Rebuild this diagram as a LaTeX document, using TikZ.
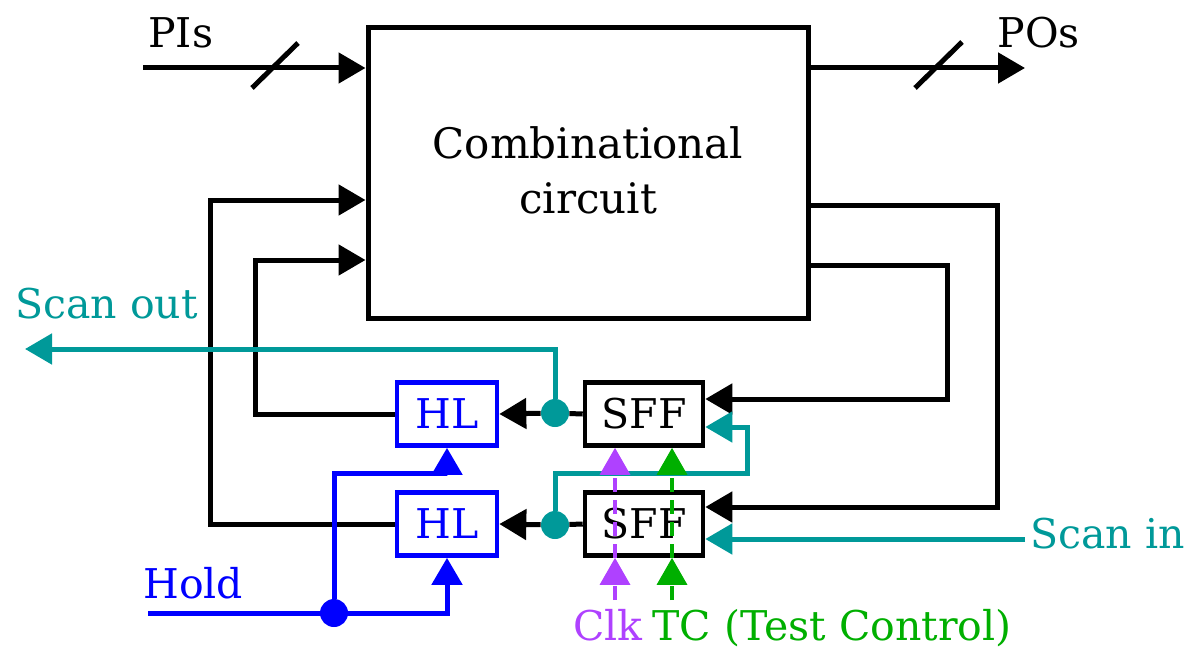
\documentclass[tikz,border=0pt]{standalone}
\usepackage{fontspec}
\setmainfont{DejaVu Serif}
\usetikzlibrary{arrows.meta}
\definecolor{tealc}{RGB}{0,153,153}
\definecolor{purplec}{RGB}{175,65,255}
\definecolor{greenc}{RGB}{0,175,0}
\definecolor{bluec}{RGB}{0,0,255}
\tikzset{
  txt/.style={font=\fontsize{20.5}{27.5}\selectfont, inner sep=0pt, anchor=base west},
  arr/.style={-{Triangle[length=13.5pt,width=15pt]}},
  wire/.style={line width=2.5pt},
  ffbox/.style={draw, line width=2.3pt, minimum width=59pt, minimum height=31.5pt, inner sep=0pt, font=\fontsize{20.5}{27.5}\selectfont},
  hlbox/.style={ffbox, draw=bluec, text=bluec, minimum width=50pt},
  dot/.style={circle, fill=#1, minimum size=14pt, inner sep=0pt},
}
\begin{document}
\begin{tikzpicture}[x=0.5pt,y=-0.5pt]
\useasboundingbox (0,0) rectangle (1186,647);
% main box
\node[draw, line width=2.5pt, minimum width=220pt, minimum height=145pt, inner sep=0pt, font=\fontsize{21}{27.5}\selectfont] (cc) at (588,173) {};
\node[align=center, inner sep=0pt, font=\fontsize{21}{27.5}\selectfont] (cctext) at (588,170) {Combinational\\circuit};
% flip-flops and hold latches
\node[ffbox] (sff1) at (644,414) {SFF};
\node[ffbox] (sff2) at (644,524) {SFF};
\node[hlbox] (hl1) at (447,414) {HL};
\node[hlbox] (hl2) at (447,524) {HL};
\node[dot=tealc] (d1) at (555,413) {};
\node[dot=tealc] (d2) at (555,525) {};
\node[dot=bluec] (hd) at (334,613) {};
% labels
\node[txt] (pis) at (148,48) {PIs};
\node[txt] (pos) at (997,48) {POs};
\node[txt, text=tealc] (sol) at (15,318) {Scan out};
\node[txt, text=tealc] (sil) at (1030,548) {Scan in};
\node[txt, text=bluec] (holdl) at (143,598) {Hold};
\node[txt, text=purplec] (clkl) at (573,640) {Clk};
\node[txt, text=greenc] (tcl) at (652,640) {TC (Test Control)};
% coordinates
\coordinate (pi) at (143,68);
\coordinate (po) at (1025,68);
\coordinate (f1a) at (cc.east |- 0,205);
\coordinate (f1b) at (997,205);
\coordinate (f1c) at (997,507);
\coordinate (f1d) at (sff2.east |- 0,507);
\coordinate (f2a) at (cc.east |- 0,265);
\coordinate (f2b) at (947,265);
\coordinate (f2c) at (947,399);
\coordinate (f2d) at (sff1.east |- 0,399);
\coordinate (soa) at (555,349);
\coordinate (so) at (25,349);
\coordinate (sca) at (555,473);
\coordinate (scb) at (747,473);
\coordinate (scc) at (747,427);
\coordinate (scd) at (sff1.east |- 0,427);
\coordinate (si) at (1025,539);
\coordinate (sie) at (sff2.east |- 0,539);
\coordinate (clk) at (615,600);
\coordinate (tc) at (672,600);
\coordinate (ha) at (447,613);
\coordinate (hb) at (334,473);
\coordinate (hc) at (447,473);
\coordinate (hold) at (148,613);
\coordinate (l1a) at (255,414);
\coordinate (l1b) at (255,260);
\coordinate (l1c) at (cc.west |- 0,260);
\coordinate (l2a) at (210,524);
\coordinate (l2b) at (210,200);
\coordinate (l2c) at (cc.west |- 0,200);
% PI / PO
\draw[wire, arr] (pi) -- (cc.west |- pi);
\draw[wire] (252,88) -- (298,43);
\draw[wire, arr] (cc.east |- po) -- (po);
\draw[wire] (915,88) -- (962,42);
% feedback
\draw[wire, arr] (f1a) -- (f1b) -- (f1c) -- (f1d);
\draw[wire, arr] (f2a) -- (f2b) -- (f2c) -- (f2d);
\draw[wire] (sff1.west) -- (d1);
\draw[wire, arr] (d1) -- (hl1.east);
\draw[wire] (sff2.west) -- (d2);
\draw[wire, arr] (d2) -- (hl2.east);
\draw[wire, arr] (hl1.west) -- (l1a) -- (l1b) -- (l1c);
\draw[wire, arr] (hl2.west) -- (l2a) -- (l2b) -- (l2c);
% scan chain
\draw[wire, tealc, arr] (d1) -- (soa) -- (so);
\draw[wire, tealc, arr] (d2) -- (sca) -- (scb) -- (scc) -- (scd);
\draw[wire, tealc, arr] (si) -- (sie);
% hold
\draw[wire, bluec, arr] (hold) -- (ha) -- (hl2.south);
\draw[wire, bluec, arr] (hd) -- (hb) -- (hc) -- (hl1.south);
% clock and test control
\draw[line width=1.6pt, purplec, dashed, dash pattern=on 7pt off 4pt, arr] (clk) -- (clk |- sff2.south);
\draw[line width=1.6pt, purplec, dashed, dash pattern=on 7pt off 4pt, arr] (clk |- sff2.south) -- (clk |- sff1.south);
\draw[line width=1.6pt, greenc, dashed, dash pattern=on 7pt off 4pt, arr] (tc) -- (tc |- sff2.south);
\draw[line width=1.6pt, greenc, dashed, dash pattern=on 7pt off 4pt, arr] (tc |- sff2.south) -- (tc |- sff1.south);
\end{tikzpicture}
\end{document}
